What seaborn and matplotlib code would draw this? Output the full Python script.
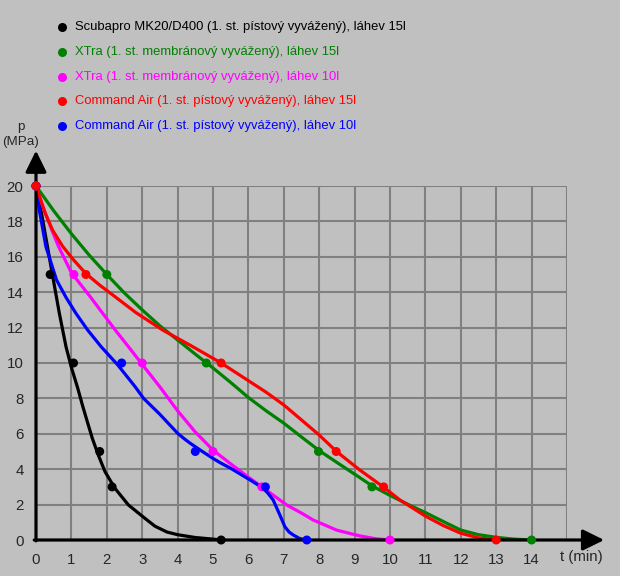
import matplotlib
matplotlib.use("Agg")
import matplotlib.pyplot as plt
from matplotlib.lines import Line2D
import seaborn as sns
import pandas as pd

# series names and colours
series = ["Scubapro MK20/D400 (1. st. pístový vyvážený), láhev 15l",
          "XTra (1. st. membránový vyvážený), láhev 15l",
          "XTra (1. st. membránový vyvážený), láhev 10l",
          "Command Air (1. st. pístový vyvážený), láhev 15l",
          "Command Air (1. st. pístový vyvážený), láhev 10l"]
colors = ["#000000", "#008000", "#ff00ff", "#ff0000", "#0000ff"]

# measured points (t in min, p in MPa)
black_t = [0, 0.4, 1.06, 1.8, 2.15, 5.23]
black_p = [20, 15, 10, 5, 3, 0]
green_t = [0, 2.0, 4.81, 7.98, 9.49, 14.0]
green_p = [20, 15, 10, 5, 3, 0]
magenta_t = [0, 1.07, 3.0, 5.0, 6.38, 10.0]
magenta_p = [20, 15, 10, 5, 3, 0]
red_t = [0, 1.41, 5.23, 8.48, 9.82, 13.0]
red_p = [20, 15, 10, 5, 3, 0]
blue_t = [0, 2.42, 4.5, 6.48, 7.65]
blue_p = [20, 10, 5, 3, 0]

# fitted curves
black_curve_t = [0, 0.17, 0.33, 0.49, 0.66, 0.85, 1.0, 1.18, 1.31, 1.45, 1.59, 1.76, 1.95, 2.23,
                 2.61, 3.08, 3.36, 3.7, 4.0, 4.5, 5.0, 5.23]
black_curve_p = [20, 18.3, 16.5, 14.7, 12.8, 10.9, 9.75, 8.57, 7.63, 6.68, 5.75, 4.8, 3.86, 2.92,
                 1.98, 1.22, 0.78, 0.45, 0.3, 0.14, 0.05, 0]
green_curve_t = [0, 0.5, 1.0, 1.5, 2.0, 2.5, 3.0, 3.5, 4.0, 4.5, 4.82, 5.0, 5.5, 6.0, 6.5, 7.0,
                 7.5, 8.0, 8.5, 9.0, 9.5, 10.0, 10.5, 11.0, 11.5, 12.0, 12.5, 13.0, 13.5, 14.0]
green_curve_p = [20, 18.6, 17.3, 16.1, 15.0, 13.95, 13.0, 12.1, 11.3, 10.5, 10.0, 9.72, 8.9, 8.05,
                 7.3, 6.6, 5.82, 5.05, 4.38, 3.72, 3.05, 2.52, 2.02, 1.55, 1.05, 0.56, 0.3, 0.15,
                 0.05, 0]
magenta_curve_t = [0, 0.2, 0.45, 0.64, 1.0, 1.53, 2.24, 2.6, 2.95, 3.5, 4.0, 4.5, 5.0, 5.5, 6.0,
                   6.38, 7.08, 7.5, 7.83, 8.49, 9.15, 9.6, 10.0]
magenta_curve_p = [20, 18.8, 17.5, 16.57, 15.1, 13.75, 11.86, 10.95, 10.05, 8.65, 7.3, 6.1, 5.08,
                   4.3, 3.55, 3.0, 1.98, 1.52, 1.13, 0.56, 0.23, 0.07, 0]
red_curve_t = [0, 0.26, 0.47, 0.75, 1.05, 1.41, 1.8, 2.21, 2.82, 3.58, 4.43, 5.23, 6.0, 6.5, 7.0,
               7.46, 8.0, 8.49, 9.15, 9.81, 10.28, 11.0, 11.5, 12.0, 12.5, 13.0]
red_curve_p = [20, 18.46, 17.5, 16.6, 15.85, 15.05, 14.4, 13.78, 12.85, 11.86, 10.92, 10.0, 9.0,
               8.35, 7.63, 6.85, 5.93, 5.0, 3.95, 3.0, 2.26, 1.35, 0.82, 0.38, 0.12, 0]
blue_curve_t = [0, 0.11, 0.28, 0.58, 0.85, 1.13, 1.46, 1.84, 2.31, 2.8, 3.04, 3.5, 4.0, 4.2, 4.36,
                4.7, 5.0, 5.2, 5.5, 6.05, 6.4, 6.55, 6.7, 6.89, 7.03, 7.15, 7.27, 7.45, 7.65]
blue_curve_p = [20, 18.46, 16.57, 14.69, 13.7, 12.8, 11.86, 10.92, 9.89, 8.66, 8.0, 7.1, 6.03, 5.7,
                5.46, 5.0, 4.61, 4.37, 4.05, 3.39, 2.95, 2.65, 2.26, 1.41, 0.75, 0.45, 0.28, 0.08, 0]

x_ticks = list(range(0, 16))
x_labels = [str(i) for i in range(0, 15)] + [""]
y_ticks = list(range(0, 21, 2))
y_labels = [str(i) for i in y_ticks]

# drawing order: red on top
order = [0, 1, 2, 4, 3]
pt_t = [black_t, green_t, magenta_t, red_t, blue_t]
pt_p = [black_p, green_p, magenta_p, red_p, blue_p]
cv_t = [black_curve_t, green_curve_t, magenta_curve_t, red_curve_t, blue_curve_t]
cv_p = [black_curve_p, green_curve_p, magenta_curve_p, red_curve_p, blue_curve_p]

pts = pd.concat([pd.DataFrame({"t": pt_t[i], "p": pt_p[i], "series": series[i]}) for i in order])
curves = pd.concat([pd.DataFrame({"t": cv_t[i], "p": cv_p[i], "series": series[i]}) for i in order])

sns.set_style("white")
plt.rcParams["font.family"] = ["Liberation Sans", "DejaVu Sans"]
palette = dict(zip(series, colors))
hue_order = [series[i] for i in order]
bg = "#c0c0c0"
fs = 10.8

fig = plt.figure(figsize=(6.2, 5.76), dpi=100, facecolor=bg)
ax = fig.add_axes([36 / 620, 36 / 576, 531 / 620, 354 / 576])
ax.set_facecolor(bg)

sns.lineplot(data=curves, x="t", y="p", hue="series", hue_order=hue_order, palette=palette,
             sort=False, estimator=None, linewidth=2.3, legend=False, ax=ax, zorder=3,
             solid_joinstyle="round", solid_capstyle="round")
sns.scatterplot(data=pts, x="t", y="p", hue="series", hue_order=hue_order, palette=palette,
                s=42, linewidth=0, legend=False, ax=ax, zorder=5, clip_on=False)

ax.set_xlim(0, 15)
ax.set_ylim(0, 20)
ax.set_xticks(x_ticks, x_labels, fontsize=fs)
ax.set_yticks(y_ticks, y_labels, fontsize=fs)
ax.tick_params(length=0, pad=9)
ax.grid(True, color="#808080", linewidth=1.5)
for sp in ax.spines.values():
    sp.set_visible(False)
ax.set_xlabel("")
ax.set_ylabel("")

# axes with arrows
arrow = dict(arrowstyle="-|>,head_length=0.65,head_width=0.32", color="black", lw=2.3,
             mutation_scale=20, shrinkA=0, shrinkB=0)
ax.annotate("", xy=(16.05, 0), xytext=(-0.05, 0), arrowprops=arrow, annotation_clip=False, zorder=4)
ax.annotate("", xy=(0, 22.0), xytext=(0, -0.05), arrowprops=arrow, annotation_clip=False, zorder=4)

fig.text(581 / 620, 1 - 557 / 576, "t (min)", fontsize=fs, ha="center", va="center")
fig.text(21 / 620, 1 - 127 / 576, "p", fontsize=9.6, ha="center", va="center")
fig.text(21 / 620, 1 - 142 / 576, "(MPa)", fontsize=9.6, ha="center", va="center")

# legend
rows = [27, 52, 77, 101, 126]
for s, c, r in zip(series, colors, rows):
    fig.add_artist(Line2D([62 / 620], [1 - r / 576], marker="o", color=c, markersize=6.5,
                          markeredgewidth=0, transform=fig.transFigure))
    fig.text(75 / 620, 1 - r / 576, s, color=c, fontsize=9.4, ha="left", va="center")

fig.savefig("out.png", dpi=100, facecolor=bg)
